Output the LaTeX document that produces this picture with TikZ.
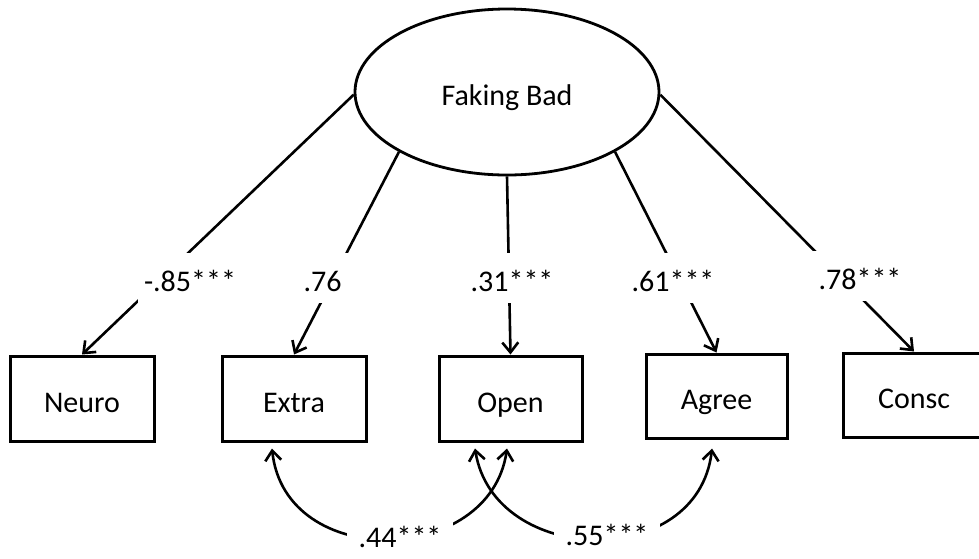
\documentclass[tikz,border=0pt]{standalone}
\usepackage{fontspec}
\setmainfont{Carlito}
\usetikzlibrary{arrows.meta,shapes.geometric}
\begin{document}
\begin{tikzpicture}[x=1pt,y=-1pt,
  every node/.style={font=\fontsize{30}{36}\selectfont, text height=27pt, text depth=0pt, inner sep=0pt},
  var/.style={draw, line width=3pt, minimum width=144pt, minimum height=85pt},
  lat/.style={draw, ellipse, line width=2.8pt, minimum width=304pt, minimum height=166pt},
  lbl/.style={fill=white, minimum height=50pt},
  clbl/.style={fill=white, minimum height=36pt, minimum width=106pt},
  conn/.style={line width=2.6pt, -{Straight Barb[length=10pt,width=16pt]}},
  cov/.style={line width=2.6pt, {Straight Barb[length=10pt,width=16pt]}-{Straight Barb[length=10pt,width=16pt]}}]
\clip (0,0) rectangle (979,558);
\fill[white] (0,0) rectangle (979,558);
% nodes
\node[lat] (fb) at (507,92) {Faking Bad};
\node[var] (neuro) at (82,398.5) {Neuro};
\node[var] (extra) at (294,398.5) {Extra};
\node[var, minimum width=143pt] (open) at (510.5,398.5) {Open};
\node[var, minimum width=141pt, minimum height=84pt] (agree) at (716.5,396) {Agree};
\node[var, minimum width=142pt, minimum height=84pt] (consc) at (914,395) {Consc};
% loadings
\draw[conn] (fb.181) -- (neuro.north);
\draw[conn] (fb.209) -- (extra.north);
\draw[conn] (fb.270) -- (open.north);
\draw[conn] (fb.331) -- (agree.north);
\draw[conn] (fb.359) -- (consc.north);
% covariances
\draw[cov] ([xshift=-22pt,yshift=-6pt]extra.south) .. controls +(13,123) and +(-17,118) .. ([xshift=-3.5pt,yshift=-6pt]open.south);
\draw[cov] ([xshift=-35.5pt,yshift=-6pt]open.south) .. controls +(19,118) and +(-14,123) .. ([xshift=-4.5pt,yshift=-9pt]agree.south);
% labels
\node[lbl, minimum width=104pt] (l1) at (190,278) {-.85***};
\node[lbl, minimum width=60pt] (l2) at (322.5,278) {.76};
\node[lbl, minimum width=100pt] (l3) at (512,278) {.31***};
\node[lbl, minimum width=100pt] (l4) at (673,278) {.61***};
\node[lbl, minimum width=104pt] (l5) at (860,276) {.78***};
\node[clbl] (c1) at (400,534) {.44***};
\node[clbl] (c2) at (607,532) {.55***};
\end{tikzpicture}
\end{document}
